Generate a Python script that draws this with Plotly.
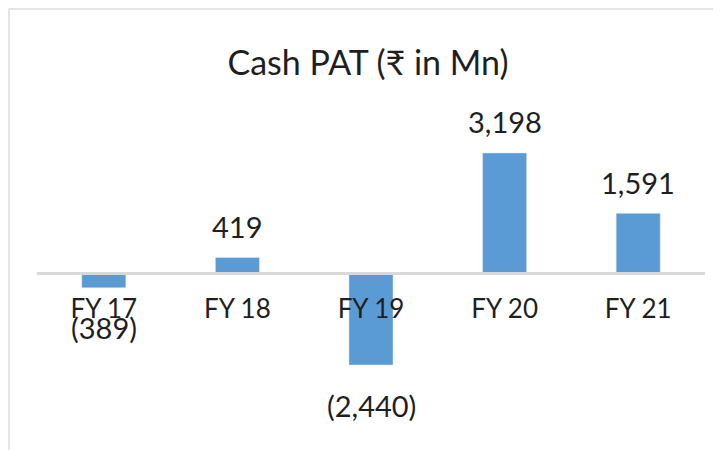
import plotly.graph_objects as go

categories = ["FY 17", "FY 18", "FY 19", "FY 20", "FY 21"]
values = [-389, 419, -2440, 3198, 1591]
title_text = "Cash PAT (₹ in Mn)"

BAR_COLOR = "#5B9BD5"
TEXT_COLOR = "#1F1F1F"
FONT = "Lato"

OFF = 8  # page body margin
W, H = 721 - OFF, 450 - OFF
L, R, T, B = 37 - OFF, 24 - OFF, 89 - OFF, 21 - OFF
y_min, y_max = -4352, 4896


def fmt(v):
    s = f"{abs(v):,}"
    return f"({s})" if v < 0 else s


fig = go.Figure()
fig.add_trace(go.Bar(
    x=categories, y=values, marker_color=BAR_COLOR, width=0.33,
    hoverinfo="skip",
))

annotations = []
for c, v in zip(categories, values):
    annotations.append(dict(
        x=c, y=v, xref="x", yref="y", text=fmt(v), showarrow=False,
        yanchor="middle", xanchor="center",
        yshift=31 if v >= 0 else -40,
        font=dict(family=FONT, size=29, color=TEXT_COLOR),
    ))

zero_pos = (0 - y_min) / (y_max - y_min)
plot_w = W - L - R
plot_h = H - T - B

fig.update_layout(
    width=W, height=H,
    margin=dict(l=L, r=R, t=T, b=B),
    paper_bgcolor="white", plot_bgcolor="white",
    showlegend=False,
    title=dict(text=title_text, x=(L + plot_w / 2 - 3) / W, xanchor="center",
               y=1 - (63 - OFF) / H, yanchor="middle", yref="container",
               font=dict(family=FONT, size=34, color=TEXT_COLOR)),
    xaxis=dict(
        type="category", range=[-0.5, 4.5], anchor="free", position=zero_pos,
        showline=True, linecolor="#D9D9D9", linewidth=3,
        showgrid=False, zeroline=False, ticks="",
        ticklabelstandoff=12,
        tickfont=dict(family=FONT, size=26, color=TEXT_COLOR),
    ),
    yaxis=dict(range=[y_min, y_max], visible=False, showgrid=False, zeroline=False),
    annotations=annotations,
    shapes=[dict(
        type="rect", xref="paper", yref="paper",
        x0=(1 - L) / plot_w, x1=(W + 10 - L) / plot_w,
        y0=-(B + 10) / plot_h, y1=(plot_h + T - 1) / plot_h,
        line=dict(color="#DDDDDD", width=1.5), layer="below",
    )],
)

fig.write_html("out.html")
